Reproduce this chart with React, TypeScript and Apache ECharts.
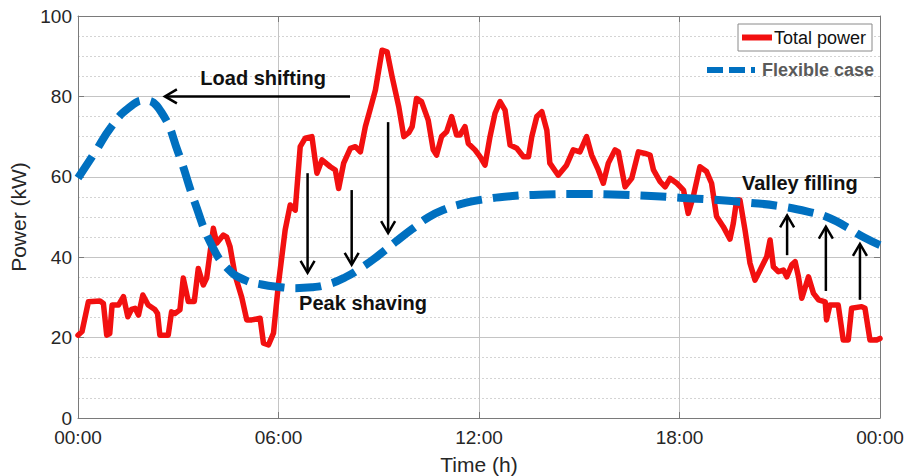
import React, { useEffect, useRef } from "react";
import * as echarts from "echarts";

// Total power (red), hours and kW
const powerHours = [
  0.0, 0.12, 0.31, 0.66, 0.76, 0.86, 0.95, 1.02, 1.21, 1.36, 1.49, 1.6, 1.71, 1.81, 1.94, 2.1, 2.3, 2.38, 2.45, 2.7,
  2.8, 2.9, 3.05, 3.15, 3.3, 3.48, 3.6, 3.75, 3.85, 3.95, 4.05, 4.15, 4.35, 4.45, 4.55, 4.7, 4.9, 5.05, 5.2, 5.45,
  5.55, 5.7, 5.85, 6.0, 6.2, 6.35, 6.5, 6.65, 6.8, 7.0, 7.15, 7.3, 7.55, 7.7, 7.8, 7.95, 8.15, 8.3, 8.45, 8.6,
  8.75, 8.9, 9.1, 9.25, 9.4, 9.6, 9.75, 9.9, 10.0, 10.13, 10.28, 10.48, 10.63, 10.73, 10.88, 11.03, 11.18, 11.33, 11.43, 11.58,
  11.68, 11.88, 12.03, 12.18, 12.33, 12.48, 12.63, 12.78, 12.93, 13.13, 13.33, 13.48, 13.58, 13.73, 13.88, 14.03, 14.12, 14.37, 14.62, 14.82,
  15.02, 15.22, 15.37, 15.57, 15.72, 15.87, 16.07, 16.17, 16.37, 16.57, 16.77, 16.97, 17.12, 17.22, 17.42, 17.57, 17.72, 17.92, 18.12, 18.26,
  18.41, 18.61, 18.81, 18.96, 19.11, 19.31, 19.51, 19.61, 19.71, 19.81, 19.96, 20.11, 20.26, 20.46, 20.61, 20.71, 20.81, 20.96, 21.11, 21.21,
  21.36, 21.46, 21.56, 21.66, 21.86, 22.01, 22.16, 22.36, 22.4, 22.5, 22.75, 22.9, 23.05, 23.15, 23.45, 23.55, 23.7, 23.9, 24.0,
];
const powerKW = [
  20.6, 21.5, 28.9, 29.1, 28.5, 20.6, 21, 28.1, 28.1, 30.2, 25.2, 27, 27.3, 25.6, 30.6, 28.1, 27.0, 26, 20.6, 20.6,
  26.4, 26.0, 26.9, 34.8, 29, 29, 37.2, 33.1, 34.8, 41, 47.2, 43.5, 45.5, 45, 42.6, 35.5, 30, 24.4, 24.4, 24.8,
  18.6, 18.2, 21.1, 33.5, 46.8, 53, 51.7, 67.5, 69.6, 70, 60.9, 64.2, 62.5, 61.7, 57.1, 63.4, 67.1, 67.5, 66.2, 72.5,
  77, 81.6, 91.5, 91.1, 84.9, 77.4, 70, 71, 72.5, 79.5, 78.7, 74.1, 66.7, 65.4, 70, 71.2, 75, 70.4, 70.4, 72.5,
  68.3, 66.7, 65, 62.9, 70, 75.8, 78.7, 76.6, 67.9, 67.1, 65, 65, 70, 75, 76.2, 71.6, 63.4, 60.4, 62.9, 66.7,
  66.2, 70, 65.4, 61.7, 58.4, 63.4, 66.7, 66.2, 57.5, 59.6, 66.2, 65.8, 65.4, 61.7, 58.8, 57.5, 59.6, 58.4, 56.7, 50.9,
  55, 62.5, 61.3, 58.4, 50.1, 47.6, 44.5, 48.4, 54.2, 54.2, 46.8, 38.5, 34.3, 37.6, 40.1, 44.3, 37.6, 36.4, 36.8, 35.1,
  38.1, 38.9, 35.1, 29.8, 35.1, 31, 29.4, 28.9, 24.4, 28.1, 28.1, 19.4, 19.4, 27.3, 27.7, 27.3, 19.4, 19.4, 19.8,
];

// Flexible case (blue dashed)
const flexHours = [
  0, 0.5, 1, 1.5, 2, 2.5, 3, 3.5, 4, 4.5, 5, 5.5, 6, 6.5, 7, 7.5, 8, 8.5, 9, 9.5,
  10, 10.5, 11, 11.5, 12, 13, 14, 15, 16, 17, 18, 19, 20, 21, 22, 22.5, 23, 23.5, 24,
];
const flexKW = [
  59.7, 66, 72.5, 77, 79, 76, 66, 53.5, 43, 37, 34.3, 33.2, 32.6, 32.3, 32.5, 33.3, 35, 37.5, 40.5, 43.8,
  47, 50, 52, 53.3, 54.2, 55.2, 55.6, 55.7, 55.6, 55.3, 54.8, 54.3, 53.6, 52.7, 51, 49.7, 47.5, 45, 43,
];

const xTickLabels = ["00:00", "06:00", "12:00", "18:00", "00:00"];

// Annotation arrows in data coordinates [hour, kW]
const arrowFrom = [
  [8.14, 80], [6.87, 60.9], [8.19, 56.7], [9.28, 73.6], [21.22, 40.5], [22.38, 31.6], [23.4, 29.4],
];
const arrowTo = [
  [2.6, 80], [6.87, 36.1], [8.19, 38.1], [9.28, 46], [21.22, 50.4], [22.38, 47.6], [23.4, 43.3],
];
const noteLabels = ["Load shifting", "Peak shaving", "Valley filling"];
const notePositions = [
  [5.54, 84.5], [8.53, 28.6], [21.6, 58.5],
];

const FONT = "'Liberation Sans', Arial, Helvetica, sans-serif";

export default function App() {
  const ref = useRef<HTMLDivElement>(null);

  useEffect(() => {
    if (!ref.current) return;
    const chart = echarts.init(ref.current, null, { renderer: "svg" });
    const powerData = powerHours.map((h, i) => [h, powerKW[i]]);
    const flexData = flexHours.map((h, i) => [h, flexKW[i]]);
    const axisColor = "#7a7a7a";

    chart.setOption({
      animation: false,
      backgroundColor: "#ffffff",
      textStyle: { fontFamily: FONT },
      grid: { left: 78, right: 28, top: 16, bottom: 58, containLabel: false, outerBoundsMode: "none" },
      xAxis: [
        {
          type: "value",
          min: 0,
          max: 24,
          interval: 6,
          name: "Time (h)",
          nameLocation: "middle",
          nameGap: 36,
          nameTextStyle: { fontSize: 21, color: "#262626", fontFamily: FONT },
          axisLine: { show: true, lineStyle: { color: axisColor, width: 1 } },
          axisTick: { show: true, inside: true, length: 6, lineStyle: { color: axisColor } },
          axisLabel: {
            fontSize: 19,
            lineHeight: 19,
            color: "#262626",
            margin: 10,
            fontFamily: FONT,
            formatter: (v: number) => xTickLabels[Math.round(v / 6)] ?? "",
          },
          splitLine: { show: true, lineStyle: { color: "#c4c4c4", width: 1 } },
        },
        {
          type: "value",
          position: "top",
          min: 0,
          max: 24,
          interval: 6,
          axisLine: { show: true, onZero: false, lineStyle: { color: axisColor, width: 1 } },
          axisTick: { show: true, inside: true, length: 6, lineStyle: { color: axisColor } },
          axisLabel: { show: false },
          splitLine: { show: false },
        },
      ],
      yAxis: [
        {
          type: "value",
          min: 0,
          max: 100,
          interval: 20,
          name: "Power (kW)",
          nameLocation: "middle",
          nameGap: 45,
          nameTextStyle: { fontSize: 21, color: "#262626", fontFamily: FONT },
          axisLine: { show: true, lineStyle: { color: axisColor, width: 1 } },
          axisTick: { show: true, inside: true, length: 6, lineStyle: { color: axisColor } },
          axisLabel: { fontSize: 19, lineHeight: 16, color: "#262626", margin: 6, fontFamily: FONT },
          splitLine: { show: true, lineStyle: { color: "#c4c4c4", width: 1 } },
          minorTick: { show: false, splitNumber: 4 },
          minorSplitLine: { show: true, lineStyle: { color: "#d4d4d4", width: 1, type: [2, 2] } },
        },
        {
          type: "value",
          position: "right",
          min: 0,
          max: 100,
          interval: 20,
          axisLine: { show: true, onZero: false, lineStyle: { color: axisColor, width: 1 } },
          axisTick: { show: true, inside: true, length: 6, lineStyle: { color: axisColor } },
          axisLabel: { show: false },
          splitLine: { show: false },
        },
      ],
      series: [
        {
          name: "Total power",
          type: "line",
          xAxisIndex: 0,
          yAxisIndex: 0,
          data: powerData,
          showSymbol: false,
          symbol: "none",
          lineStyle: { color: "#f21010", width: 5.5, join: "round", cap: "round" },
          z: 3,
        },
        {
          name: "Flexible case",
          type: "line",
          xAxisIndex: 0,
          yAxisIndex: 0,
          data: flexData,
          smooth: true,
          showSymbol: false,
          symbol: "none",
          lineStyle: { color: "#0070c0", width: 8, type: [26, 11], cap: "butt" },
          z: 4,
        },
      ],
    });

    const toPx = (p: number[]) => chart.convertToPixel({ xAxisIndex: 0, yAxisIndex: 0 }, p) as number[];
    const graphics: any[] = [];

    arrowFrom.forEach((from, i) => {
      const p1 = toPx(from);
      const p2 = toPx(arrowTo[i]);
      const dx = p2[0] - p1[0];
      const dy = p2[1] - p1[1];
      const len = Math.sqrt(dx * dx + dy * dy) || 1;
      const ux = dx / len;
      const uy = dy / len;
      const nx = -uy;
      const ny = ux;
      const L = 12;
      const W = 7;
      graphics.push({
        type: "line",
        shape: { x1: p1[0], y1: p1[1], x2: p2[0] - ux * 1, y2: p2[1] - uy * 1 },
        style: { stroke: "#000", lineWidth: 2.5 },
        z: 10,
      });
      graphics.push({
        type: "polyline",
        shape: {
          points: [
            [p2[0] - ux * L + nx * W, p2[1] - uy * L + ny * W],
            [p2[0], p2[1]],
            [p2[0] - ux * L - nx * W, p2[1] - uy * L - ny * W],
          ],
        },
        style: { stroke: "#000", lineWidth: 2.5, fill: null },
        z: 10,
      });
    });

    noteLabels.forEach((label, i) => {
      const p = toPx(notePositions[i]);
      graphics.push({
        type: "text",
        x: p[0],
        y: p[1],
        style: {
          text: label,
          fontSize: 20,
          fontWeight: "bold",
          fontFamily: FONT,
          fill: "#111",
          align: "center",
          verticalAlign: "middle",
        },
        z: 10,
      });
    });

    // Legend
    graphics.push(
      {
        type: "rect",
        shape: { x: 738, y: 24, width: 134, height: 27 },
        style: { fill: "#fff", stroke: "#8a8a8a", lineWidth: 1 },
        z: 20,
      },
      {
        type: "line",
        shape: { x1: 742, y1: 37.5, x2: 772, y2: 37.5 },
        style: { stroke: "#f21010", lineWidth: 6 },
        z: 21,
      },
      {
        type: "text",
        x: 774,
        y: 38,
        style: { text: "Total power", fontSize: 18, fontFamily: FONT, fill: "#111", verticalAlign: "middle" },
        z: 21,
      },
      {
        type: "line",
        shape: { x1: 707, y1: 70, x2: 755, y2: 70 },
        style: { stroke: "#0070c0", lineWidth: 6, lineDash: [16, 6] },
        z: 21,
      },
      {
        type: "text",
        x: 762,
        y: 70,
        style: {
          text: "Flexible case",
          fontSize: 18,
          fontWeight: "bold",
          fontFamily: FONT,
          fill: "#5a5a5a",
          verticalAlign: "middle",
        },
        z: 21,
      }
    );

    chart.setOption({ graphic: graphics });

    return () => {
      chart.dispose();
    };
  }, []);

  return (
    <div
      ref={ref}
      style={{ position: "fixed", left: 0, top: 0, width: 908, height: 476, background: "#fff" }}
    />
  );
}
